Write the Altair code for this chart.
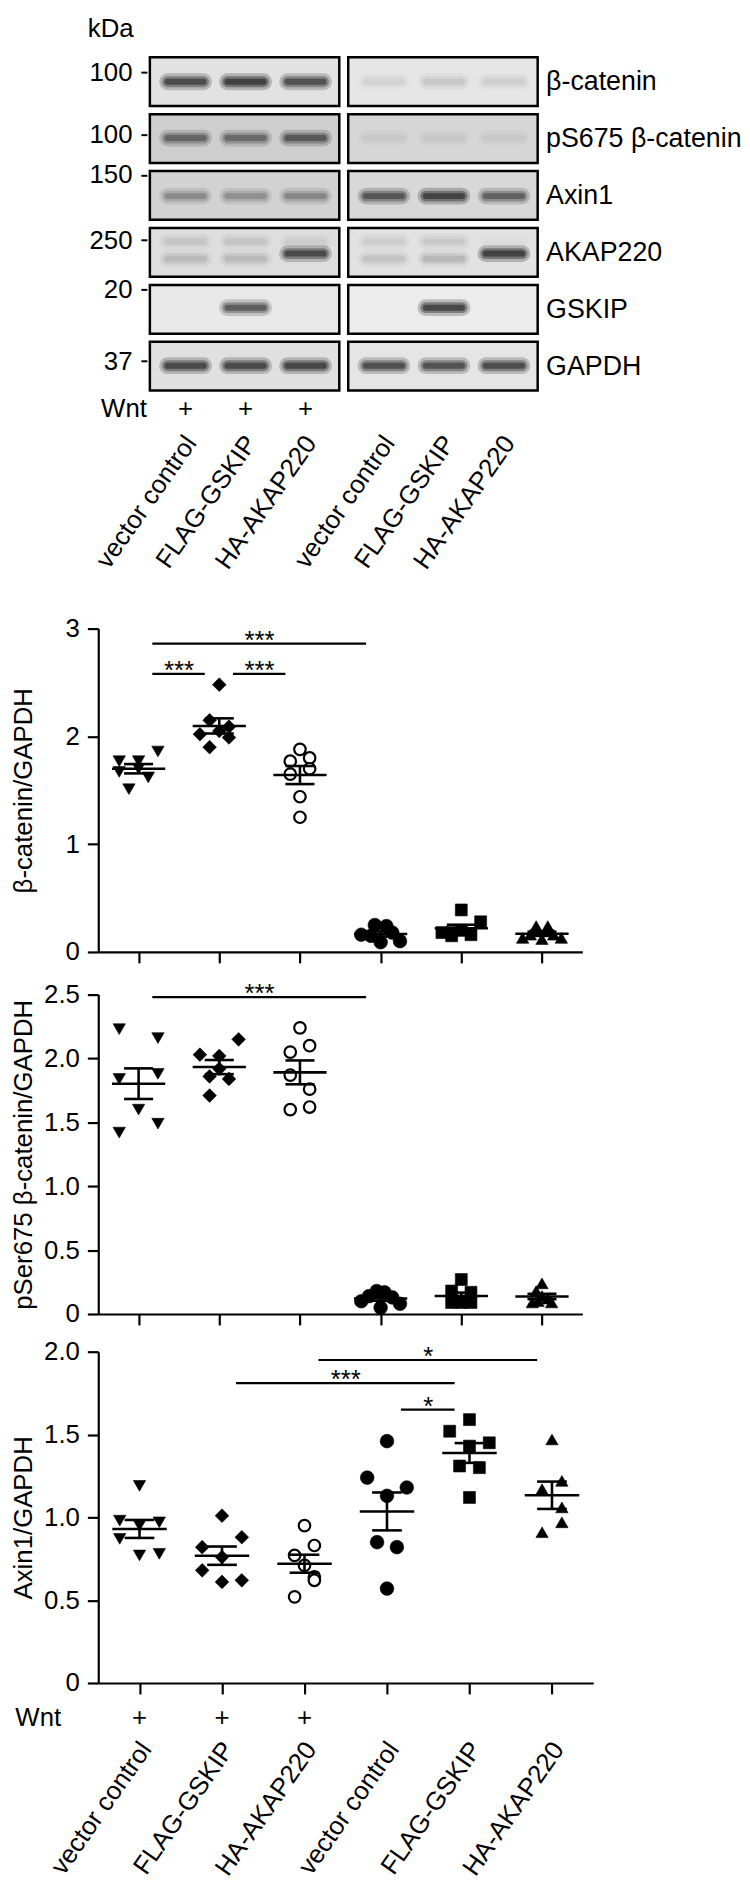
import json
import altair as alt
import pandas as pd

FONT = "Liberation Sans"
FS = 26
FS_LAB = 27

# ---------------- categories ----------------
GROUPS = ["vector control", "FLAG-GSKIP", "HA-AKAP220",
          "vector control", "FLAG-GSKIP", "HA-AKAP220"]
WNT = ["+", "+", "+", "", "", ""]
SHAPES = ["triangle-down", "diamond", "circle", "circle", "square", "triangle-up"]
FILLS = ["black", "black", "white", "black", "black", "black"]

# ---------------- western blot ----------------
PROTEINS = ["β-catenin", "pS675 β-catenin", "Axin1", "AKAP220", "GSKIP", "GAPDH"]
MW_LABELS = ["100", "100", "150", "250", "20", "37"]
MW_MARK = [0.27, 0.355, 0.07, 0.216, 0.08, 0.34]      # marker position inside each strip (row units)
BAND_WNT = [                                          # band intensity, Wnt-treated lanes
    [0.85, 0.95, 0.80],
    [0.60, 0.55, 0.70],
    [0.35, 0.33, 0.38],
    [0.15, 0.15, 0.85],
    [0.00, 0.72, 0.00],
    [0.86, 0.86, 0.90],
]
BAND_NOWNT = [                                        # band intensity, untreated lanes
    [0.07, 0.12, 0.09],
    [0.05, 0.06, 0.05],
    [0.75, 0.92, 0.65],
    [0.12, 0.18, 0.95],
    [0.00, 0.90, 0.00],
    [0.82, 0.80, 0.85],
]
AKAP_UPPER_WNT = [0.10, 0.10, 0.07]
AKAP_UPPER_NOWNT = [0.08, 0.10, 0.02]

# ---------------- quantification ----------------
BCAT_VALS = [
    [1.77, 1.77, 1.86, 1.67, 1.62, 1.51, 1.70],
    [2.48, 2.15, 2.09, 2.02, 2.05, 1.99, 1.90],
    [1.88, 1.77, 1.80, 1.65, 1.70, 1.44, 1.25],
    [0.16, 0.25, 0.24, 0.09, 0.10, 0.15, 0.18],
    [0.39, 0.28, 0.18, 0.15, 0.16, 0.20, 0.18],
    [0.24, 0.24, 0.13, 0.13, 0.12, 0.16, 0.16],
]
BCAT_COLS = [
    [-1, 0, 1, -1, 0.5, -0.5, 0],
    [0, -0.5, 0.5, -1, 0, 0.5, -0.5],
    [0, -0.5, 0.5, -0.5, 0.5, 0, 0],
    [-1, -0.3, 0.3, 0, 1, -0.5, 0.6],
    [0, 1, -1, -0.5, 0.5, 0, -0.5],
    [-0.3, 0.3, -1, 1, 0, -0.6, 0.6],
]
BCAT_SIG = {"g1": [1, 1, 2], "g2": [4, 2, 3], "h": [2.86, 2.58, 2.58], "lab": ["***", "***", "***"]}

PSER_VALS = [
    [2.23, 2.16, 1.88, 1.84, 1.60, 1.49, 1.42],
    [2.03, 2.02, 2.15, 1.86, 1.84, 1.71, 1.92],
    [2.24, 2.10, 2.05, 1.87, 1.76, 1.60, 1.62],
    [0.18, 0.17, 0.10, 0.08, 0.05, 0.14, 0.13],
    [0.27, 0.18, 0.17, 0.09, 0.09, 0.10, 0.09],
    [0.24, 0.18, 0.09, 0.09, 0.12, 0.14, 0.10],
]
PSER_COLS = [
    [-1, 1, 1, -1, 0, 1, -1],
    [-1, 0, 1, -0.5, 0.5, -0.5, 0],
    [0, 0.5, -0.5, -0.5, 0.5, -0.5, 0.5],
    [-0.2, 0.2, -1, 1, 0, -0.6, 0.6],
    [0, -0.5, 0.5, -0.5, 0.5, 0, 0],
    [0, -0.3, -0.5, 0.5, 0.3, 0, -0.2],
]
PSER_SIG = {"g1": [1], "g2": [4], "h": [2.48], "lab": ["***"]}

AXIN_VALS = [
    [1.19, 0.98, 0.95, 0.97, 0.87, 0.77, 0.78],
    [1.01, 0.88, 0.82, 0.76, 0.68, 0.61, 0.62],
    [0.95, 0.83, 0.77, 0.71, 0.64, 0.62, 0.52],
    [1.46, 1.24, 1.18, 1.13, 0.85, 0.82, 0.57],
    [1.59, 1.52, 1.43, 1.45, 1.31, 1.30, 1.12],
    [1.47, 1.22, 1.17, 1.06, 0.97, 0.91],
]
AXIN_COLS = [
    [0, -1, 0, 1, -1, 0, 1],
    [0, 1, -1, 0, -1, 0, 1],
    [0, 0.5, -0.5, 0, 0.5, 0.5, -0.5],
    [0, -1, 1, 0, -0.5, 0.5, 0],
    [0, -1, 0, 1, -0.5, 0.5, 0],
    [0, 0.5, -0.5, 0.5, 0.5, -0.5],
]
AXIN_SIG = {"g1": [3, 2, 4], "g2": [6, 5, 5], "h": [1.95, 1.81, 1.65], "lab": ["*", "***", "*"]}

# ---------------- styles / layout ----------------
BG = [["#e2e2e2", "#cecece", "#d2d2d2", "#dedede", "#e8e8e8", "#e0e0e0"],
      ["#e6e6e6", "#d6d6d6", "#d8d8d8", "#e2e2e2", "#ececec", "#e5e5e5"]]
BAND_POS = [0.43, 0.42, 0.44, 0.45, 0.40, 0.42]
AKAP_MAIN_POS = [0.54, 0.54, 0.45]
AKAP_UPPER_POS = 0.24
BOX_H = 0.857
BOX_LO, BOX_HI = -0.595, 2.562
LEFT_XMIN = -1.455
BAND_HALF = 0.30
BAND_LAYERS = [(17, 0.25), (11, 0.40), (6, 0.55)]
PLUS_ROW = 6.19
SIZES = [155, 190, 135, 190, 145, 155]
JIT = 0.24
MEAN_HALF, CAP_HALF = 0.33, 0.18
SIG_IN, SIG_OUT = 0.17, 0.18
LW = 2.2
LABEL_ANGLE = 305


def blot_panel(p):
    left = p == 0
    ints = BAND_WNT if left else BAND_NOWNT
    upper = AKAP_UPPER_WNT if left else AKAP_UPPER_NOWNT
    rows = []
    for r in range(6):
        for l in range(3):
            pos = BAND_POS[r]
            if r == 3:
                pos = AKAP_MAIN_POS[l]
                rows.append({"lane": l, "yb": r + AKAP_UPPER_POS, "it": upper[l]})
            rows.append({"lane": l, "yb": r + pos, "it": ints[r][l]})
    bdf = pd.DataFrame(rows)
    xs = alt.Scale(domain=[LEFT_XMIN if left else BOX_LO, BOX_HI], nice=False, zero=False)
    ys = alt.Scale(domain=[0, 5 + BOX_H], reverse=True, nice=False, zero=False)

    if left:
        yaxis = alt.Axis(values=[r + MW_MARK[r] for r in range(6)],
                         labelExpr=json.dumps(MW_LABELS) + "[floor(datum.value)]",
                         orient="left", offset=-49, tickSize=6, tickWidth=2, domain=False,
                         labelPadding=9, labelFontSize=FS, grid=False, labelOverlap=False,
                         title="kDa", titleAngle=0, titleX=-37, titleY=-29, titleFontSize=FS,
                         titleFontWeight="normal", titleAlign="center", titleBaseline="middle")
    else:
        yaxis = alt.Axis(values=[r + BOX_H / 2 for r in range(6)],
                         labelExpr=json.dumps(PROTEINS, ensure_ascii=False) + "[floor(datum.value)]",
                         orient="right", ticks=False, tickSize=0, domain=False, labelPadding=8,
                         labelFontSize=FS_LAB, grid=False, title=None, labelLimit=400,
                         labelOverlap=False)
    xaxis = alt.Axis(values=[0, 1, 2],
                     labelExpr=json.dumps(GROUPS[:3]) + "[datum.value]",
                     labelAngle=LABEL_ANGLE, labelAlign="right", labelBaseline="middle",
                     labelPadding=48, labelOffset=5, ticks=False, tickSize=0, domain=False,
                     labelFontSize=FS, labelLimit=400, grid=False, title=None,
                     labelOverlap=False)

    boxes = alt.Chart(pd.DataFrame({"row": list(range(6)), "bg": BG[p]})).transform_calculate(
        bot=f"datum.row + {BOX_H}"
    ).mark_rect(stroke="black", strokeWidth=2.5).encode(
        x=alt.XDatum(BOX_LO, scale=xs, axis=xaxis), x2=alt.datum(BOX_HI),
        y=alt.Y("row:Q", scale=ys, axis=yaxis), y2="bot:Q",
        fill=alt.Fill("bg:N", scale=None),
    )
    layers = [boxes]
    for sw, fac in BAND_LAYERS:
        layers.append(
            alt.Chart(bdf).transform_calculate(
                x0=f"datum.lane - {BAND_HALF}", x1=f"datum.lane + {BAND_HALF}", op=f"datum.it * {fac}"
            ).mark_rule(color="#141414", strokeWidth=sw, strokeCap="round").encode(
                x=alt.X("x0:Q", scale=xs, axis=xaxis), x2="x1:Q",
                y=alt.Y("yb:Q", scale=ys, axis=yaxis),
                opacity=alt.Opacity("op:Q", scale=None),
            )
        )
    if left:
        pdf = pd.DataFrame({"lane": [0, 1, 2], "w": WNT[:3]})
        layers.append(alt.Chart(pdf).mark_text(fontSize=FS, color="black").encode(
            x=alt.X("lane:Q", scale=xs, axis=xaxis),
            y=alt.YDatum(PLUS_ROW, scale=ys, axis=yaxis), text="w:N"))
        layers.append(alt.Chart(pd.DataFrame({"t": ["Wnt"]})).mark_text(
            fontSize=FS, color="black", align="right", dx=-39).encode(
            x=alt.XDatum(0, scale=xs, axis=xaxis),
            y=alt.YDatum(PLUS_ROW, scale=ys, axis=yaxis), text="t:N"))
    return alt.layer(*layers).properties(width=243 if left else 191, height=336)


def scatter(vals, cols, sig, ymax, ticks, fmt, title, width, height):
    rows = []
    for gi, (vs, cs) in enumerate(zip(vals, cols), start=1):
        for v, c in zip(vs, cs):
            rows.append({"g": gi, "v": v, "col": c, "shape": SHAPES[gi - 1],
                         "fill": FILLS[gi - 1], "size": SIZES[gi - 1],
                         "sw": 2.2 if FILLS[gi - 1] == "white" else 0.6})
    df = pd.DataFrame(rows)
    xs = alt.Scale(domain=[0.5, 6.5], nice=False, zero=False)
    ys = alt.Scale(domain=[0, ymax], nice=False, zero=True)
    yaxis = alt.Axis(values=ticks,
                     labelExpr=f"datum.value == 0 ? '0' : format(datum.value, '{fmt}')",
                     title=title, titleFontSize=FS, titleFontWeight="normal", titlePadding=6,
                     labelFontSize=FS, labelPadding=8, tickSize=11, tickWidth=LW, domainWidth=LW,
                     minExtent=56, maxExtent=56, grid=False, labelOverlap=False)
    xaxis = alt.Axis(values=[1, 2, 3, 4, 5, 6], labels=False, tickSize=11, tickWidth=LW,
                     domainWidth=LW, title=None, grid=False)

    def X(f):
        return alt.X(f, scale=xs, axis=xaxis)

    def Y(f):
        return alt.Y(f, scale=ys, axis=yaxis)

    pts = alt.Chart(df).transform_calculate(xj=f"datum.g + datum.col * {JIT}").mark_point(
        filled=True, stroke="black", opacity=1
    ).encode(
        x=X("xj:Q"), y=Y("v:Q"),
        shape=alt.Shape("shape:N", scale=None),
        fill=alt.Fill("fill:N", scale=None),
        size=alt.Size("size:Q", scale=None),
        strokeWidth=alt.StrokeWidth("sw:Q", scale=None),
    )
    stats = alt.Chart(df).transform_aggregate(
        m="mean(v)", se="stderr(v)", groupby=["g"]
    ).transform_calculate(
        lo="datum.m - datum.se", hi="datum.m + datum.se",
        ml=f"datum.g - {MEAN_HALF}", mr=f"datum.g + {MEAN_HALF}",
        cl=f"datum.g - {CAP_HALF}", cr=f"datum.g + {CAP_HALF}",
    )
    mean_l = stats.mark_rule(color="black", strokeWidth=2.6).encode(
        x=X("ml:Q"), x2="mr:Q", y=Y("m:Q"))
    vert = stats.mark_rule(color="black", strokeWidth=2.6).encode(
        x=X("g:Q"), y=Y("lo:Q"), y2="hi:Q")
    cap_lo = stats.mark_rule(color="black", strokeWidth=2.6).encode(
        x=X("cl:Q"), x2="cr:Q", y=Y("lo:Q"))
    cap_hi = stats.mark_rule(color="black", strokeWidth=2.6).encode(
        x=X("cl:Q"), x2="cr:Q", y=Y("hi:Q"))

    sdf = pd.DataFrame(sig)
    sbase = alt.Chart(sdf).transform_calculate(
        a=f"datum.g1 + {SIG_IN}", b=f"datum.g2 - {SIG_OUT}", c="(datum.g1 + datum.g2) / 2")
    sline = sbase.mark_rule(color="black", strokeWidth=LW).encode(
        x=X("a:Q"), x2="b:Q", y=Y("h:Q"))
    stext = sbase.mark_text(fontSize=FS, baseline="alphabetic", dy=5, color="black").encode(
        x=X("c:Q"), y=Y("h:Q"), text="lab:N")
    return alt.layer(pts, mean_l, vert, cap_lo, cap_hi, sline, stext).properties(
        width=width, height=height)


def spacer(h):
    return alt.Chart(pd.DataFrame({"s": [0]})).mark_point(opacity=0).properties(width=1, height=h)


blot = alt.hconcat(blot_panel(0), blot_panel(1), spacing=9, bounds="flush")

p1 = scatter(BCAT_VALS, BCAT_COLS, BCAT_SIG, 3, [0, 1, 2, 3], "d",
             "β-catenin/GAPDH", 488, 326)
p2 = scatter(PSER_VALS, PSER_COLS, PSER_SIG, 2.5, [0, 0.5, 1.0, 1.5, 2.0, 2.5], ".1f",
             "pSer675 β-catenin/GAPDH", 488, 322)
p3 = scatter(AXIN_VALS, AXIN_COLS, AXIN_SIG, 2.0, [0, 0.5, 1.0, 1.5, 2.0], ".1f",
             "Axin1/GAPDH", 499, 334)

xs3 = alt.Scale(domain=[0.5, 6.5], nice=False, zero=False)
lab_axis = alt.Axis(values=[1, 2, 3, 4, 5, 6],
                    labelExpr=json.dumps(GROUPS) + "[datum.value - 1]",
                    labelAngle=LABEL_ANGLE, labelAlign="right", labelBaseline="middle",
                    labelPadding=14, labelOffset=6, ticks=False, tickSize=0, domain=False,
                    labelFontSize=FS, labelLimit=400, grid=False, title=None,
                    labelOverlap=False)
wdf = pd.DataFrame({"g": [1, 2, 3, 4, 5, 6], "w": WNT})
wnt3 = alt.layer(
    alt.Chart(wdf).mark_text(fontSize=FS, color="black").encode(
        x=alt.X("g:Q", scale=xs3, axis=lab_axis), text="w:N"),
    alt.Chart(pd.DataFrame({"t": ["Wnt"]})).mark_text(
        fontSize=FS, color="black", align="right", dx=-79).encode(
        x=alt.XDatum(1, scale=xs3, axis=lab_axis), text="t:N"),
).properties(width=499, height=26)

chart = alt.vconcat(
    blot, spacer(42), p1, spacer(16), p2, spacer(12), p3, spacer(9), wnt3, spacing=0
).properties(
    padding={"left": 3, "top": 0, "right": 0, "bottom": 0}
).configure(font=FONT).configure_view(stroke=None).configure_axis(
    labelColor="black", titleColor="black", tickColor="black", domainColor="black",
    labelFont=FONT, titleFont=FONT
).configure_text(font=FONT)

chart.save("out.html", embed_options={"renderer": "svg", "actions": False})
